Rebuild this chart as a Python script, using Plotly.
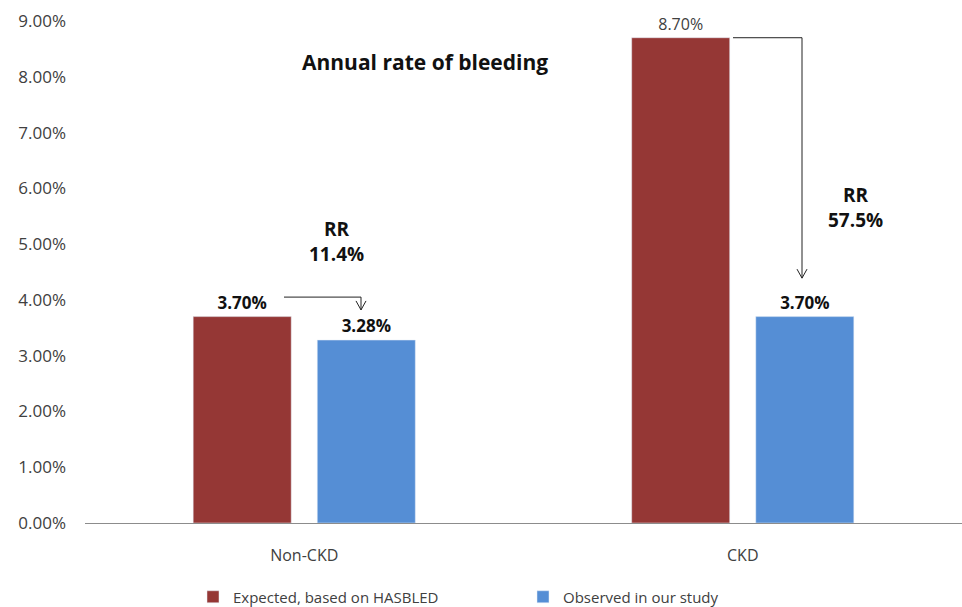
import plotly.graph_objects as go

# Annual bleeding rates (%) by kidney function group
categories = ["Non-CKD", "CKD"]
expected = [3.70, 8.70]   # expected from HAS-BLED score
observed = [3.28, 3.70]   # observed in the cohort
series_names = ["Expected, based on HASBLED", "Observed in our study"]
y_ticks = [0, 1, 2, 3, 4, 5, 6, 7, 8, 9]

RED = "#953735"
BLUE = "#558ED5"
FONT = "Open Sans"

# Relative reduction observed vs expected
rr = [(e - o) / e * 100 for e, o in zip(expected, observed)]


def label(v, bold=True):
    s = f"{v:.2f}%"
    return f"<b>{s}</b>" if bold else s


fig = go.Figure()
fig.add_trace(go.Bar(
    x=categories, y=expected, name=series_names[0], marker_color=RED,
    text=[label(expected[0]), label(expected[1], bold=False)],
    textposition="outside", cliponaxis=False,
    textfont=dict(family=FONT, size=[17, 16], color=["#111111", "#404040"]),
))
fig.add_trace(go.Bar(
    x=categories, y=observed, name=series_names[1], marker_color=BLUE,
    text=[label(v) for v in observed],
    textposition="outside", cliponaxis=False,
    textfont=dict(family=FONT, size=17, color="#111111"),
))


# Plot area spans 85..962 px horizontally
def px_x(p):
    return (p - 85) / 877


line = dict(color="#222222", width=1)
arrows = [
    # (x start, x end, y start (data), y tip (data))
    (px_x(284), px_x(361), 4.05, 3.82),
    (px_x(733), px_x(802), expected[1], 4.39),
]
for xs, xe, ys, yt in arrows:
    fig.add_shape(type="path", xref="paper", yref="y",
                  path=f"M {xs},{ys} L {xe},{ys} L {xe},{yt}", line=line)
    dx = 5 / 877
    dy = 9 / 55.8
    fig.add_shape(type="path", xref="paper", yref="y",
                  path=f"M {xe - dx},{yt + dy} L {xe},{yt} L {xe + dx},{yt + dy}",
                  line=line)

fig.add_annotation(x=px_x(425), xref="paper", y=8.26, yref="y", xanchor="center",
                   text="<b>Annual rate of bleeding</b>", showarrow=False,
                   font=dict(family=FONT, size=21, color="#111111"))
fig.add_annotation(x=px_x(336), xref="paper", y=5.05, yref="y", xanchor="center",
                   text=f"<b>RR<br>{rr[0]:.1f}%</b>", showarrow=False,
                   font=dict(family=FONT, size=19, color="#111111"))
fig.add_annotation(x=px_x(855), xref="paper", y=5.65, yref="y", xanchor="center",
                   text=f"<b>RR<br>{rr[1]:.1f}%</b>", showarrow=False,
                   font=dict(family=FONT, size=19, color="#111111"))

fig.update_layout(
    width=962, height=607,
    margin=dict(l=85, r=0, t=21, b=84, autoexpand=False),
    paper_bgcolor="white", plot_bgcolor="white",
    barmode="group", bargap=0.434, bargroupgap=0.21,
    font=dict(family=FONT, color="#404040"),
    showlegend=True,
    legend=dict(orientation="h", x=px_x(193), xanchor="left",
                y=(523 - 597) / 502, yanchor="middle",
                entrywidth=285, font=dict(family=FONT, size=15, color="#404040"),
                itemwidth=30),
)
fig.update_xaxes(showgrid=False, showline=True, linecolor="#8c8c8c", linewidth=1,
                 ticks="", ticklabelstandoff=18,
                 tickfont=dict(family=FONT, size=16, color="#404040"))
fig.update_yaxes(range=[0, 9], tickvals=y_ticks, ticktext=[f"{v:.2f}%" for v in y_ticks],
                 showgrid=False, zeroline=False, showline=False, ticks="",
                 ticklabelstandoff=18,
                 tickfont=dict(family=FONT, size=17, color="#404040"))

fig.write_html("out.html")
